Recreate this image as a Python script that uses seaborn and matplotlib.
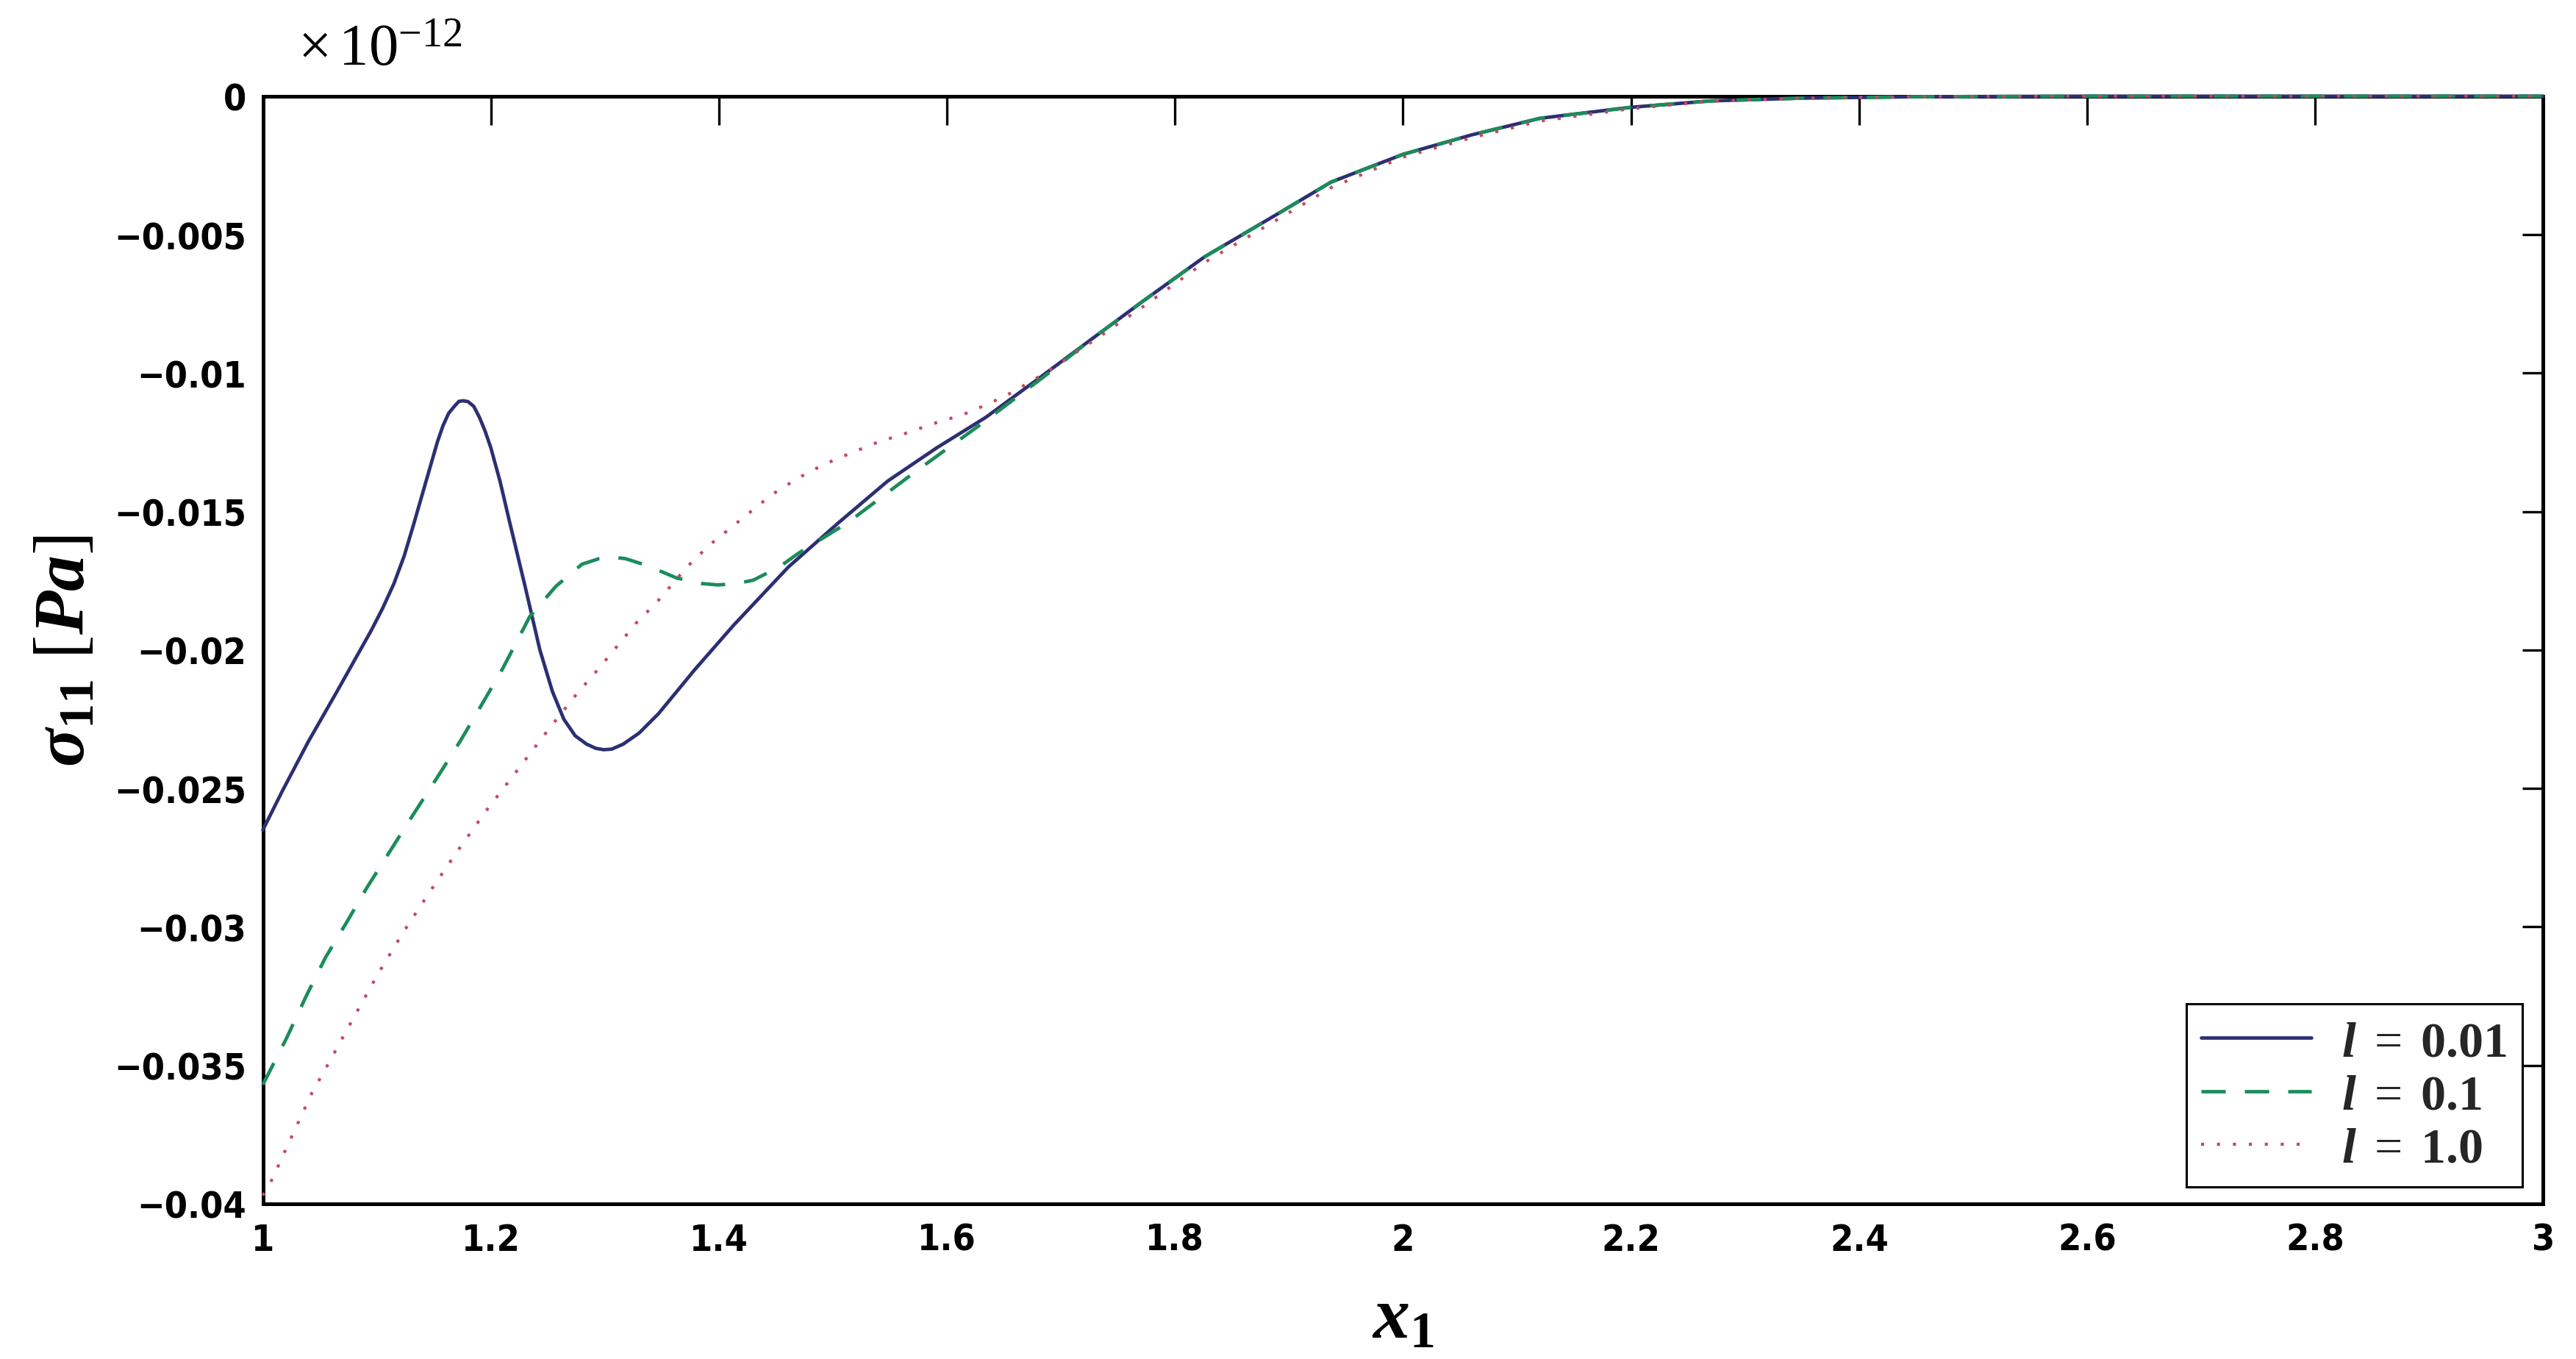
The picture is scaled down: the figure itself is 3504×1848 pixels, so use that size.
import matplotlib
matplotlib.use('Agg')
import pandas as pd
import seaborn as sns
import matplotlib.pyplot as plt
from matplotlib import font_manager

# values, y in units of 1e-12 Pa
x_l001 = [1.000, 1.017, 1.040, 1.065, 1.080, 1.095, 1.105, 1.115, 1.124, 1.132,
          1.139, 1.146, 1.153, 1.158, 1.163, 1.168, 1.172, 1.176, 1.180, 1.185,
          1.190, 1.195, 1.200, 1.208, 1.216, 1.230, 1.243, 1.254, 1.264, 1.274,
          1.284, 1.292, 1.299, 1.306, 1.316, 1.330, 1.347, 1.379, 1.413,
          1.461, 1.505, 1.548, 1.591, 1.634, 1.677, 1.726, 1.772, 1.826, 1.888,
          1.937, 2.000, 2.060, 2.120, 2.200, 2.270, 2.350, 2.450, 2.600, 2.800, 3.000]
y_l001 = [-0.0265, -0.0251, -0.0233, -0.0215, -0.0204, -0.0193, -0.0185, -0.0176, -0.0166, -0.0155,
          -0.0145, -0.0135, -0.0125, -0.0119, -0.01145, -0.0112, -0.01102, -0.0110, -0.01103, -0.0112,
          -0.0116, -0.0121, -0.0127, -0.0139, -0.0153, -0.0177, -0.0200, -0.0215, -0.0225, -0.0231,
          -0.0234, -0.02355, -0.0236, -0.02358, -0.0234, -0.0230, -0.0223, -0.0207, -0.0191,
          -0.0170, -0.0154, -0.0139, -0.0127, -0.0116, -0.0103, -0.0088, -0.0074, -0.0058, -0.0043,
          -0.0031, -0.0021, -0.0014, -0.0008, -0.0004, -0.00017, -0.00007, -0.00002, 0.0, 0.0, 0.0]

x_l01 = [1.000, 1.021, 1.038, 1.055, 1.074, 1.091, 1.111, 1.131, 1.153, 1.173,
         1.193, 1.210, 1.234, 1.257, 1.280, 1.295, 1.307, 1.318, 1.337, 1.363,
         1.385, 1.399, 1.415, 1.430, 1.453, 1.470, 1.513, 1.571, 1.628, 1.686,
         1.726, 1.772, 1.826, 1.888, 1.937, 2.000, 2.060, 2.120, 2.200, 2.270,
         2.350, 2.450, 2.600, 2.800, 3.000]
y_l01 = [-0.0357, -0.0340, -0.0325, -0.0311, -0.0298, -0.0286, -0.0273, -0.0260, -0.0246, -0.0233,
         -0.0219, -0.0207, -0.0188, -0.0177, -0.0169, -0.0167, -0.01665, -0.0167, -0.01695, -0.0174,
         -0.0176, -0.01765, -0.0176, -0.01748, -0.0170, -0.0165, -0.0154, -0.0136, -0.0119, -0.0101,
         -0.0088, -0.0074, -0.0058, -0.0043, -0.0031, -0.0021, -0.0014, -0.0008, -0.0004, -0.00017,
         -0.00007, -0.00002, 0.0, 0.0, 0.0]

x_l10 = [1.000, 1.006, 1.025, 1.043, 1.058, 1.078, 1.101, 1.123, 1.147, 1.170,
         1.196, 1.224, 1.250, 1.275, 1.294, 1.310, 1.328, 1.345, 1.372, 1.392,
         1.413, 1.434, 1.446, 1.469, 1.492, 1.515, 1.539, 1.562, 1.590, 1.614,
         1.637, 1.657, 1.686, 1.726, 1.772, 1.826, 1.888, 1.937, 2.000, 2.060,
         2.120, 2.200, 2.270, 2.350, 2.450, 2.600, 2.800, 3.000]
y_l10 = [-0.0397, -0.0393, -0.0376, -0.0360, -0.0349, -0.0334, -0.0317, -0.0302, -0.0287, -0.0273,
         -0.0258, -0.0243, -0.0229, -0.0216, -0.0207, -0.0199, -0.0190, -0.0183, -0.0170, -0.0162,
         -0.0155, -0.0148, -0.0144, -0.0138, -0.0133, -0.0129, -0.0125, -0.0122, -0.0118, -0.0115,
         -0.0111, -0.0107, -0.0100, -0.0089, -0.0076, -0.0060, -0.0045, -0.0033, -0.0022, -0.0015,
         -0.0009, -0.00045, -0.00018, -0.00007, -0.00002, 0.0, 0.0, 0.0]

legend_labels = [r'$l\;=\;\mathbf{0.01}$', r'$l\;=\;\mathbf{0.1}$', r'$l\;=\;\mathbf{1.0}$']

x_ticks = [1.0, 1.2, 1.4, 1.6, 1.8, 2.0, 2.2, 2.4, 2.6, 2.8, 3.0]
x_tick_labels = ['1', '1.2', '1.4', '1.6', '1.8', '2', '2.2', '2.4', '2.6', '2.8', '3']
y_ticks = [-0.04, -0.035, -0.03, -0.025, -0.02, -0.015, -0.01, -0.005, 0.0]
y_tick_labels = ['\u22120.04', '\u22120.035', '\u22120.03', '\u22120.025', '\u22120.02',
                 '\u22120.015', '\u22120.01', '\u22120.005', '0']

sns.set_theme(style='white')

plt.rcParams['font.family'] = ['Liberation Sans', 'DejaVu Sans']
plt.rcParams['mathtext.fontset'] = 'custom'
plt.rcParams['mathtext.rm'] = 'Liberation Serif'
plt.rcParams['mathtext.it'] = 'Liberation Serif:italic:bold'
plt.rcParams['mathtext.bf'] = 'Liberation Serif:bold'


# a narrow bold sans for the tick labels, like the original
def narrow_bold_font():
    best = None
    for f in font_manager.fontManager.ttflist:
        fn = f.fname.lower()
        w = f.weight if isinstance(f.weight, int) else font_manager.weight_dict.get(f.weight, 400)
        if w < 600 or 'oblique' in fn or 'italic' in fn:
            continue
        if 'liberationsansnarrow' in fn.replace('-', '').replace('_', ''):
            return f.fname, 19
        if 'condensed' in fn or 'narrow' in fn or f.stretch in ('condensed', 'semi-condensed'):
            if best is None:
                best = f.fname
    if best is not None:
        return best, 18
    return None, 16


tick_fname, tick_size = narrow_bold_font()
if tick_fname:
    tick_fp = font_manager.FontProperties(fname=tick_fname, size=tick_size)
else:
    tick_fp = font_manager.FontProperties(family='Liberation Sans', weight='bold', size=tick_size)

fig = plt.figure(figsize=(17.52, 9.245), dpi=200)
ax = fig.add_axes([0.10203, 0.11412, 0.88524, 0.8146])

df1 = pd.DataFrame({'x': x_l001, 'y': y_l001})
df2 = pd.DataFrame({'x': x_l01, 'y': y_l01})
df3 = pd.DataFrame({'x': x_l10, 'y': y_l10})

sns.lineplot(data=df1, x='x', y='y', ax=ax, color='#2c2f72', lw=1.7,
             linestyle='-', label=legend_labels[0], sort=False, estimator=None, clip_on=False, zorder=3)
sns.lineplot(data=df2, x='x', y='y', ax=ax, color='#1b8c5a', lw=1.7,
             linestyle=(0, (7, 5.5)), label=legend_labels[1], sort=False, estimator=None, clip_on=False, zorder=3)
sns.lineplot(data=df3, x='x', y='y', ax=ax, color='#c44a5e', lw=1.5,
             linestyle=(0, (1, 4.2)), label=legend_labels[2], sort=False, estimator=None, clip_on=False, zorder=3)

ax.set_xlim(1, 3)
ax.set_ylim(-0.04, 0)
ax.set_xticks(x_ticks, labels=x_tick_labels)
ax.set_yticks(y_ticks, labels=y_tick_labels)
ax.tick_params(axis='both', direction='in', top=True, right=True,
               width=1.2, color='black', labelcolor='black')
ax.tick_params(axis='x', length=14, pad=9)
ax.tick_params(axis='y', length=10, pad=8)
for lab in ax.get_xticklabels() + ax.get_yticklabels():
    lab.set_fontproperties(tick_fp)

for sp in ax.spines.values():
    sp.set_visible(True)
    sp.set_color('black')
    sp.set_linewidth(1.8)

ax.set_xlabel(r'$x_{\mathbf{1}}$', fontsize=36, color='black')
ax.set_ylabel(r'$\sigma_{\mathbf{11}}\ [Pa]$', fontsize=35, color='black')
ax.xaxis.set_label_coords(0.5, -0.072)
ax.yaxis.set_label_coords(-0.072, 0.5)

fig.text(0.1156, 0.9513, r'$\times\,10^{-12}$', fontsize=29, ha='left', va='baseline', color='black')

leg = ax.legend(loc='lower right', bbox_to_anchor=(0.9907, 0.0153), borderaxespad=0,
                fontsize=24.5, frameon=True, fancybox=False, framealpha=1, edgecolor='black',
                handlelength=2.2, handletextpad=0.6, labelspacing=0.12, borderpad=0.3)
leg.get_frame().set_linewidth(1.1)

fig.savefig('out.png', dpi=200, facecolor='white')
